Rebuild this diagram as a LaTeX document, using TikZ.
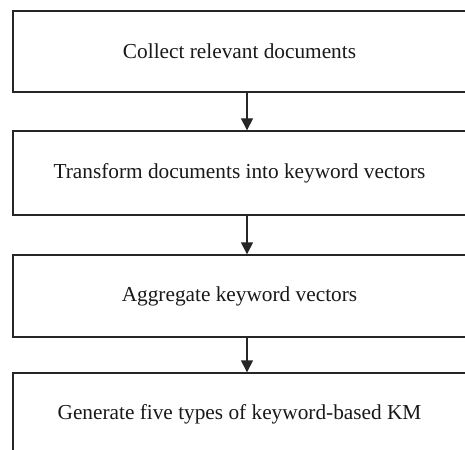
\documentclass[tikz,border=0pt]{standalone}
\usepackage{fontspec}
\setmainfont{Liberation Serif}
\usetikzlibrary{arrows.meta}
\begin{document}
\begin{tikzpicture}[x=1pt,y=-1pt,
  stepbox/.style={draw=black!85, line width=1.4pt, rectangle, minimum width=453pt,
    inner sep=0pt, font=\fontsize{21.3}{25}\selectfont, text=black!90},
  flow/.style={draw=black!85, line width=1.4pt, -{Triangle[length=12pt,width=12pt]}}]
  \useasboundingbox (0,0) rectangle (465,449);
  \clip (0,0) rectangle (465,449);
  \fill[white] (0,0) rectangle (465,449);
  % the four steps of the procedure; the last box runs past the lower edge
  \node[stepbox, minimum height=81pt] (b1) at (239.5,51.5) {Collect relevant documents};
  \node[stepbox, minimum height=84pt] (b2) at (239.5,173) {Transform documents into keyword vectors};
  \node[stepbox, minimum height=82pt] (b3) at (239.5,296) {Aggregate keyword vectors};
  \node[stepbox, minimum height=82pt] (b4) at (239.5,414) {Generate five types of keyword-based KM};
  % connectors run down a common vertical line
  \coordinate (ax) at (247,0);
  \draw[flow] (b1.south -| ax) -- (b2.north -| ax);
  \draw[flow] (b2.south -| ax) -- (b3.north -| ax);
  \draw[flow] (b3.south -| ax) -- (b4.north -| ax);
\end{tikzpicture}
\end{document}
